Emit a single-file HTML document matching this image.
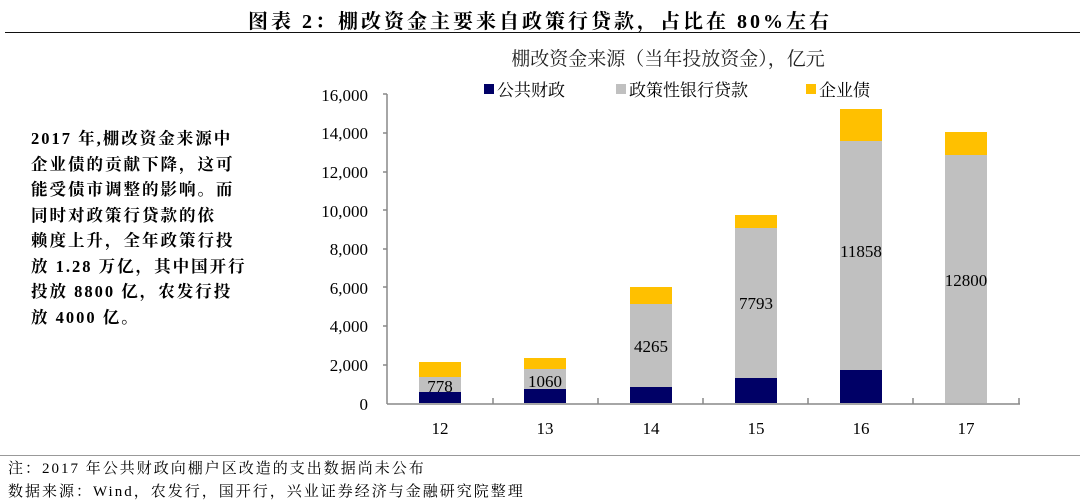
<!DOCTYPE html><html><head><meta charset="utf-8"><style>
body{margin:0;width:1080px;height:504px;background:#fff;position:relative;overflow:hidden;font-family:"Liberation Serif","Noto Serif CJK SC",serif;color:#000}
.t{position:absolute;white-space:nowrap}
</style></head><body>
<div class="t" style="left:0;width:1080px;top:5px;text-align:center;font-size:20px;font-weight:bold;letter-spacing:3px">图表 2：棚改资金主要来自政策行贷款，占比在 80%左右</div>
<div style="position:absolute;left:5px;top:32px;width:1075px;height:1px;background:#111"></div>
<div class="t" style="left:31px;top:126px;font-size:16.5px;font-weight:bold;line-height:25.5px;letter-spacing:2px">2017 年,棚改资金来源中<br>企业债的贡献下降，这可<br>能受债市调整的影响。而<br>同时对政策行贷款的依<br>赖度上升，全年政策行投<br>放 1.28 万亿，其中国开行<br>投放 8800 亿，农发行投<br>放 4000 亿。</div>
<div style="position:absolute;left:0;top:455px;width:1080px;height:1px;background:#999"></div>
<div class="t" style="left:8px;top:457px;font-size:15px;letter-spacing:2px">注：2017 年公共财政向棚户区改造的支出数据尚未公布</div>
<div class="t" style="left:8px;top:480px;font-size:15px;letter-spacing:2px">数据来源：Wind，农发行，国开行，兴业证券经济与金融研究院整理</div>
<svg style="position:absolute;left:0;top:0" width="1080" height="504" font-family="Liberation Serif,Noto Serif CJK SC,serif">
<text x="668" y="65" font-size="19" text-anchor="middle" fill="#222">棚改资金来源（当年投放资金），亿元</text>
<rect x="484" y="84" width="10" height="10" fill="#000066"/><text x="497" y="96" font-size="17">公共财政</text>
<rect x="616" y="84" width="10" height="10" fill="#c0c0c0"/><text x="629" y="96" font-size="17">政策性银行贷款</text>
<rect x="806" y="84" width="10" height="10" fill="#ffc000"/><text x="819" y="96" font-size="17">企业债</text>
<g font-size="17" text-anchor="end">
<text x="368" y="101">16,000</text><text x="368" y="139">14,000</text><text x="368" y="178">12,000</text><text x="368" y="217">10,000</text><text x="368" y="255">8,000</text><text x="368" y="294">6,000</text><text x="368" y="332">4,000</text><text x="368" y="371">2,000</text><text x="368" y="410">0</text>
</g>
<g stroke="#888" stroke-width="1.5">
<line x1="387" y1="94" x2="387" y2="404"/><line x1="383" y1="94" x2="387" y2="94"/><line x1="383" y1="133" x2="387" y2="133"/><line x1="383" y1="172" x2="387" y2="172"/><line x1="383" y1="210" x2="387" y2="210"/><line x1="383" y1="249" x2="387" y2="249"/><line x1="383" y1="287" x2="387" y2="287"/><line x1="383" y1="326" x2="387" y2="326"/><line x1="383" y1="365" x2="387" y2="365"/>
<line x1="387" y1="404" x2="1020" y2="404"/>
<line x1="493" y1="404" x2="493" y2="398"/><line x1="598" y1="404" x2="598" y2="398"/><line x1="703" y1="404" x2="703" y2="398"/><line x1="808" y1="404" x2="808" y2="398"/><line x1="913" y1="404" x2="913" y2="398"/><line x1="1019" y1="404" x2="1019" y2="398"/>
</g>
<g>
<rect x="419" y="392" width="42" height="11" fill="#000066"/><rect x="419" y="377" width="42" height="15" fill="#c0c0c0"/><rect x="419" y="362" width="42" height="15" fill="#ffc000"/>
<rect x="524" y="389" width="42" height="14" fill="#000066"/><rect x="524" y="369" width="42" height="20" fill="#c0c0c0"/><rect x="524" y="358" width="42" height="11" fill="#ffc000"/>
<rect x="630" y="387" width="42" height="16" fill="#000066"/><rect x="630" y="304" width="42" height="83" fill="#c0c0c0"/><rect x="630" y="287" width="42" height="17" fill="#ffc000"/>
<rect x="735" y="378" width="42" height="25" fill="#000066"/><rect x="735" y="228" width="42" height="150" fill="#c0c0c0"/><rect x="735" y="215" width="42" height="13" fill="#ffc000"/>
<rect x="840" y="370" width="42" height="33" fill="#000066"/><rect x="840" y="141" width="42" height="229" fill="#c0c0c0"/><rect x="840" y="109" width="42" height="32" fill="#ffc000"/>
<rect x="945" y="155" width="42" height="248" fill="#c0c0c0"/><rect x="945" y="132" width="42" height="23" fill="#ffc000"/>
</g>
<g font-size="17" text-anchor="middle">
<text x="440" y="392">778</text><text x="545" y="387">1060</text><text x="651" y="352">4265</text><text x="756" y="309">7793</text><text x="861" y="257">11858</text><text x="966" y="286">12800</text>
<text x="440" y="434">12</text><text x="545" y="434">13</text><text x="651" y="434">14</text><text x="756" y="434">15</text><text x="861" y="434">16</text><text x="966" y="434">17</text>
</g>
</svg>
</body></html>
